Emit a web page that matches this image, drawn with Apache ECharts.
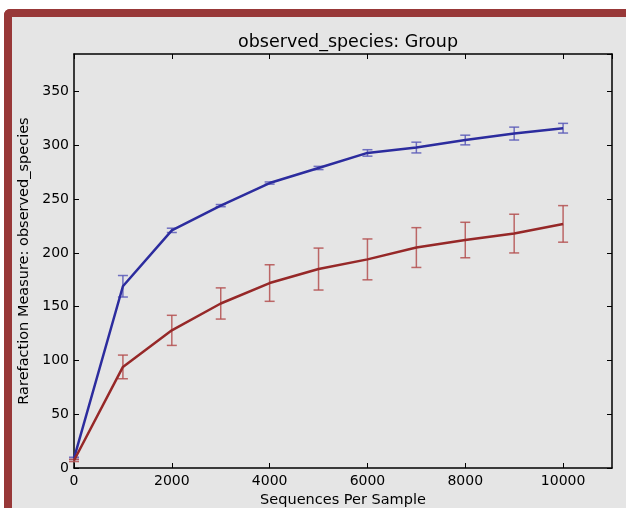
<!DOCTYPE html>
<html>
<head>
<meta charset="utf-8">
<script src="https://cdn.jsdelivr.net/npm/echarts@6/dist/echarts.min.js"></script>
<style>
	body { margin: 0; background: #ffffff; }
	.frame {
		position: absolute; left: 4px; top: 9px; width: 660px; height: 540px;
		border-left: 8px solid #983838; border-top: 8px solid #983838;
		border-top-left-radius: 6px; background: #e5e5e5;
	}
	.chart { position: absolute; left: 0; top: 0; width: 626px; height: 508px; }
</style>
</head>
<body>
<div class="frame"></div>
<div class="chart"></div>
<script>
var depths = [0, 1000, 2000, 3000, 4000, 5000, 6000, 7000, 8000, 9000, 10000];
var blueMean = [9, 169, 221, 244, 265, 279, 293, 298, 305, 311, 316];
var blueErr = [1, 10, 2, 1, 1, 1.5, 3, 5, 4.5, 6, 4.5];
var redMean = [7, 94, 128, 153, 172, 185, 194, 205, 212, 218, 227];
var redErr = [1, 11, 14, 14.5, 17, 19.5, 19, 18.5, 16.5, 18, 17];

function errData(mean, err){
	return depths.map(function(d, i){ return [d, mean[i] - err[i], mean[i] + err[i]]; });
}
function lineData(mean){
	return depths.map(function(d, i){ return [d, mean[i]]; });
}
function errorBars(color){
	return function(params, api){
		var top = api.coord([api.value(0), api.value(2)]);
		var bot = api.coord([api.value(0), api.value(1)]);
		var w = 5;
		var style = { stroke: color, lineWidth: 1.5, fill: null };
		return {
			type: 'group',
			children: [
				{ type: 'line', shape: { x1: top[0], y1: top[1], x2: bot[0], y2: bot[1] }, style: style },
				{ type: 'line', shape: { x1: top[0]-w, y1: top[1], x2: top[0]+w, y2: top[1] }, style: style },
				{ type: 'line', shape: { x1: bot[0]-w, y1: bot[1], x2: bot[0]+w, y2: bot[1] }, style: style }
			]
		};
	};
}
function plain(v){ return String(v); }

var myChart = echarts.init(document.querySelector(".chart"));
var font = 'DejaVu Sans';
var frameAxis = {
	axisLine: { show: true, onZero: false, lineStyle: { color: '#000', width: 1.5 } },
	axisTick: { show: true, inside: true, length: 5, lineStyle: { color: '#000' } },
	splitLine: { show: false }
};
var option = {
	animation: false,
	textStyle: { fontFamily: font },
	title: {
		text: 'observed_species: Group',
		left: 343,
		top: 28,
		textAlign: 'center',
		textStyle: { fontFamily: font, fontSize: 17.5, fontWeight: 'normal', color: '#000' }
	},
	grid: { left: 74, right: 14, top: 54, bottom: 40, outerBoundsMode: 'none', containLabel: false },
	xAxis: [
		Object.assign({
			type: 'value', min: 0, max: 11000, interval: 2000, position: 'bottom',
			name: 'Sequences Per Sample', nameLocation: 'middle', nameGap: 16,
			nameTextStyle: { fontFamily: font, fontSize: 14.5, color: '#000' },
			axisLabel: { showMaxLabel: false, margin: 6, formatter: plain, fontFamily: font, fontSize: 14, color: '#000' }
		}, frameAxis),
		Object.assign({
			type: 'value', min: 0, max: 11000, interval: 2000, position: 'top',
			axisLabel: { show: false }
		}, frameAxis)
	],
	yAxis: [
		Object.assign({
			type: 'value', min: 0, max: 385, interval: 50, position: 'left',
			name: 'Rarefaction Measure: observed_species', nameLocation: 'middle', nameGap: 32,
			nameTextStyle: { fontFamily: font, fontSize: 14.5, color: '#000' },
			axisLabel: { showMaxLabel: false, margin: 5, formatter: plain, fontFamily: font, fontSize: 14, color: '#000' }
		}, frameAxis),
		Object.assign({
			type: 'value', min: 0, max: 385, interval: 50, position: 'right',
			axisLabel: { show: false }
		}, frameAxis)
	],
	series: [
		{
			type: 'custom', renderItem: errorBars('rgba(90,90,185,0.85)'),
			data: errData(blueMean, blueErr), z: 3
		},
		{
			type: 'custom', renderItem: errorBars('rgba(180,80,80,0.85)'),
			data: errData(redMean, redErr), z: 3
		},
		{
			name: 'blue', type: 'line', data: lineData(blueMean),
			showSymbol: false, z: 4,
			lineStyle: { color: '#2c2c9e', width: 2.5 }
		},
		{
			name: 'red', type: 'line', data: lineData(redMean),
			showSymbol: false, z: 4,
			lineStyle: { color: '#962828', width: 2.5 }
		}
	]
};
myChart.setOption(option);
</script>
</body>
</html>
